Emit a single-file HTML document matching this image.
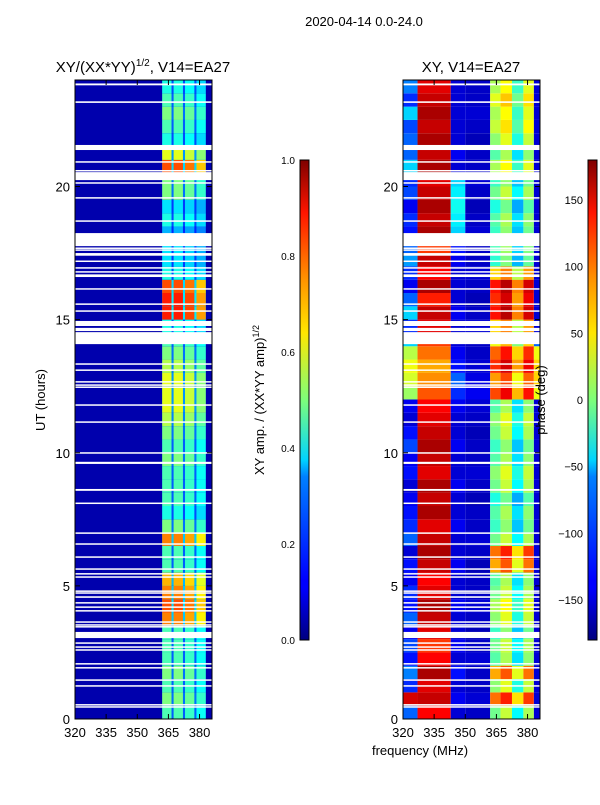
<!DOCTYPE html>
<html><head><meta charset="utf-8"><style>
body{margin:0;background:#fff;}
svg text{font-family:"Liberation Sans",sans-serif;fill:#000;}
</style></head><body>
<svg id="fig" width="600" height="800" xmlns="http://www.w3.org/2000/svg">
<defs>
<linearGradient id="jet" x1="0" y1="1" x2="0" y2="0">
<stop offset="0" stop-color="#00007f"/><stop offset="0.11" stop-color="#0000ff"/><stop offset="0.125" stop-color="#0000ff"/>
<stop offset="0.34" stop-color="#0080ff"/><stop offset="0.375" stop-color="#00d4ff"/><stop offset="0.5" stop-color="#7dff7a"/>
<stop offset="0.64" stop-color="#ffe600"/><stop offset="0.75" stop-color="#ff9400"/><stop offset="0.89" stop-color="#ff1500"/><stop offset="1" stop-color="#7f0000"/>
</linearGradient>
</defs>
<text x="364" y="26" font-size="13" text-anchor="middle">2020-04-14 0.0-24.0</text>
<text x="143" y="72" font-size="15" text-anchor="middle">XY/(XX*YY)<tspan font-size="10" dy="-6">1/2</tspan><tspan dy="6">, V14=EA27</tspan></text>
<text x="471" y="72" font-size="15" text-anchor="middle">XY, V14=EA27</text>
<g id="left"></g>
<g id="right"></g>
<g id="axes"></g>
<text transform="translate(45,400) rotate(-90)" font-size="13" text-anchor="middle">UT (hours)</text>
<text x="420" y="755" font-size="13" text-anchor="middle">frequency (MHz)</text>
<rect x="300" y="160" width="9" height="480" fill="url(#jet)" stroke="#000" stroke-width="1"/>
<rect x="588" y="160" width="9" height="480" fill="url(#jet)" stroke="#000" stroke-width="1"/>
<text transform="translate(264,400) rotate(-90)" font-size="13" text-anchor="middle">XY amp. / (XX*YY amp)<tspan font-size="9" dy="-5">1/2</tspan></text>
<text transform="translate(545,400) rotate(-90)" font-size="13" text-anchor="middle">phase (deg)</text>
</svg>
<script>
// ---- data ----
const xTicks=[320,335,350,365,380];
const yTicks=[0,5,10,15,20];
const ampTicks=[0.0,0.2,0.4,0.6,0.8,1.0];
const phaseTicks=[-150,-100,-50,0,50,100,150];
const flags=[[23.8,23.87],[23.14,23.2],[21.37,21.56],[20.9,20.95],[20.57,20.62],[20.24,20.54],[20.11,20.16],[19.55,19.6],[18.68,18.73],[17.76,18.25],[17.67,17.71],[17.6,17.64],[17.4,17.5],[17.18,17.22],[16.93,16.97],[16.78,16.82],[16.6,16.7],[16.13,16.18],[15.56,15.61],[15.3,15.35],[14.76,14.95],[14.57,14.69],[14.08,14.53],[13.31,13.36],[13.08,13.13],[12.64,12.69],[12.52,12.57],[12.45,12.49],[11.77,11.82],[11.13,11.18],[9.97,10.02],[9.58,9.66],[8.57,8.64],[8.08,8.13],[6.96,7.01],[6.55,6.6],[6.06,6.11],[5.61,5.66],[5.43,5.48],[5.31,5.36],[4.78,4.83],[4.71,4.76],[4.55,4.61],[4.34,4.39],[4.18,4.23],[4.04,4.09],[3.62,3.67],[3.51,3.56],[3.44,3.49],[3.04,3.27],[2.83,2.88],[2.68,2.73],[2.57,2.62],[2.05,2.1],[1.9,1.95],[1.44,1.49],[1.22,1.27],[0.51,0.56],[0.43,0.48]];
const ampRow=[0.45,0.5,0.45,0.5,0.45,0.45,0.45,0.75,0.8,0.75,0.7,0.45,0.45,0.75,0.5,0.4,0.45,0.45,0.45,0.5,0.45,0.5,0.55,0.6,0.6,0.6,0.55,0.5,0.45,0.4,0.85,0.85,0.8,0.4,0.35,0.35,0.3,0.4,0.35,0.5,0.5,0.8,0.6,0.4,0.45,0.5,0.45,0.4];
const bandLo=[362,367.5,373,378.5];
const bandHi=[366.5,372,377.5,383];
const bandWeight=[1,1,0.95,0.85];
const phaseEdge=[-100,150,-120,-90,-130,-110,-140,-100,-130,-120,-140,-130,-150,-100,-120,-130,-140,-150,-130,-140,-110,-130,-150,-140,10,30,40,20,-60,-120,-60,-100,-140,-120,-80,-100,-130,-120,-140,-110,-120,-60,-100,-100,-110,-60,-120,-90];
const phaseCore=[135,155,145,165,135,115,145,155,165,145,135,155,165,155,145,165,155,165,145,155,165,155,145,135,105,85,75,95,115,145,155,125,165,135,155,115,165,155,165,155,145,165,155,165,155,165,155,145];
const phaseFlank=[-150,-140,-150,-130,-150,-140,-150,-150,-140,-150,-150,-140,-150,-150,-140,-150,-150,-140,-150,-150,-140,-150,-150,-140,-120,-100,-130,-140,-150,-150,-140,-150,-150,-150,-140,-130,-60,-50,-40,-50,-60,-150,-140,-150,-150,-150,-150,-150];
const phaseMid=[-155,-150,-155,-155,-150,-155,-160,-155,-150,-155,-155,-160,-155,-150,-155,-155,-160,-155,-150,-155,-155,-160,-155,-150,-140,-145,-150,-155,-155,-150,-155,-160,-155,-150,-155,-155,-150,-155,-160,-155,-150,-155,-155,-160,-155,-150,-155,-155];
const phaseBand=[-5,95,5,75,-15,-5,-25,5,15,-5,-15,75,95,-5,-25,-15,-35,-5,5,-15,-25,-5,5,-15,110,80,120,100,40,60,130,120,130,60,-30,-20,-25,-15,-35,-5,-25,15,-15,5,25,15,35,15];
const bandOffset=[0,30,-40,20];
const phaseRim=[-150,-150,-150,-150,-150,-150,-150,-150,-150,-150,-150,-150,-150,-150,-150,-150,-150,-150,-150,-150,-150,-150,-150,-150,40,60,60,40,-100,-150,-150,-150,-150,-150,-150,-150,-150,-150,-150,-150,-150,-150,-150,-150,-150,-150,-150,-150];
// ---- scales ----
const NS='http://www.w3.org/2000/svg';
const W=137,yTop=80,yBot=719;
function xs(f,x0){return x0+(f-320)*W/66;}
function ys(h){return yBot-h*(yBot-yTop)/24;}
function cl(v){return Math.max(0,Math.min(1,v));}
function jet(t){const r=cl(1.5-Math.abs(4*t-3)),g=cl(1.5-Math.abs(4*t-2)),b=cl(1.5-Math.abs(4*t-1));return `rgb(${Math.round(r*255)},${Math.round(g*255)},${Math.round(b*255)})`;}
function rect(p,x,y,w,h,fill){const r=document.createElementNS(NS,'rect');r.setAttribute('x',x);r.setAttribute('y',y);r.setAttribute('width',w);r.setAttribute('height',h);r.setAttribute('fill',fill);p.appendChild(r);return r;}
const L=document.getElementById('left'),R=document.getElementById('right');
const rowH=0.5;
rect(L,75,yTop,W,yBot-yTop,jet(0.045));
for(let i=0;i<ampRow.length;i++){
  const h0=i*rowH,y=ys(h0+rowH),hh=ys(h0)-ys(h0+rowH);
  rect(L,xs(362,75),y,xs(383,75)-xs(362,75),hh,jet(0.06+ampRow[i]*0.35));
  for(let b=0;b<bandLo.length;b++){
    const c=rect(L,xs(bandLo[b],75),y,xs(bandHi[b],75)-xs(bandLo[b],75),hh,jet(ampRow[i]*bandWeight[b]));
    
    
  }
  const segs=[[320,327,phaseEdge[i]],[327,343,phaseCore[i]],[343,350,phaseFlank[i]],[350,362,phaseMid[i]],[383,386,phaseRim[i]]];
  for(const s of segs){
    const c=rect(R,xs(s[0],403),y,xs(s[1],403)-xs(s[0],403),hh,jet((Math.min(175,s[2])+180)/360));
    
    
  }
  for(let b=0;b<bandLo.length;b++){
    const lo=b==0?362:bandLo[b]-0.5,hi=b==3?383:bandLo[b+1]-0.5;
    let p=phaseBand[i]+bandOffset[b];p=Math.max(-180,Math.min(180,p));
    const c=rect(R,xs(lo,403),y,xs(hi,403)-xs(lo,403),hh,jet((p+180)/360));
    
    
  }
}
for(const [x0,g] of [[75,L],[403,R]]){
  for(const f of flags){
    const c=rect(g,x0,ys(f[1]),W,Math.max(1.5,ys(f[0])-ys(f[1])),'#fff');
    
    
  }
}
// ---- axes ----
const A=document.getElementById('axes');
function line(x1,y1,x2,y2,n){const l=document.createElementNS(NS,'line');l.setAttribute('x1',x1);l.setAttribute('y1',y1);l.setAttribute('x2',x2);l.setAttribute('y2',y2);l.setAttribute('stroke','#000');l.setAttribute('stroke-width','1');A.appendChild(l);}
function txt(x,y,s,anchor,size,n){const t=document.createElementNS(NS,'text');t.setAttribute('x',x);t.setAttribute('y',y);t.setAttribute('text-anchor',anchor);t.setAttribute('font-size',size);t.textContent=s;A.appendChild(t);}
for(const x0 of [75,403]){
  const fr=document.createElementNS(NS,'rect');fr.setAttribute('x',x0);fr.setAttribute('y',yTop);fr.setAttribute('width',W);fr.setAttribute('height',yBot-yTop);fr.setAttribute('fill','none');fr.setAttribute('stroke','#000');
  
  
  A.appendChild(fr);
  for(const f of xTicks){const x=xs(f,x0);line(x,yBot,x,yBot-5,'x-tick');line(x,yTop,x,yTop+5,'x-tick');txt(x,737,f,'middle',13,'x-tick-label');}
  for(const h of yTicks){const y=ys(h);line(x0,y,x0+5,y,'y-tick');line(x0+W,y,x0+W-5,y,'y-tick');txt(x0-5,y+5,h,'end',13,'y-tick-label');}
}
for(const v of ampTicks){const y=640-v*480;line(300,y,303,y,'amp-colorbar-tick');line(309,y,306,y,'amp-colorbar-tick');txt(295,y+4,v.toFixed(1),'end',10,'amp-colorbar-tick-label');}
for(const v of phaseTicks){const y=400-v*480/360;line(588,y,591,y,'phase-colorbar-tick');line(597,y,594,y,'phase-colorbar-tick');txt(583,y+4,v<0?'\u2212'+(-v):v,'end',11,'phase-colorbar-tick-label');}
</script>
</body></html>
